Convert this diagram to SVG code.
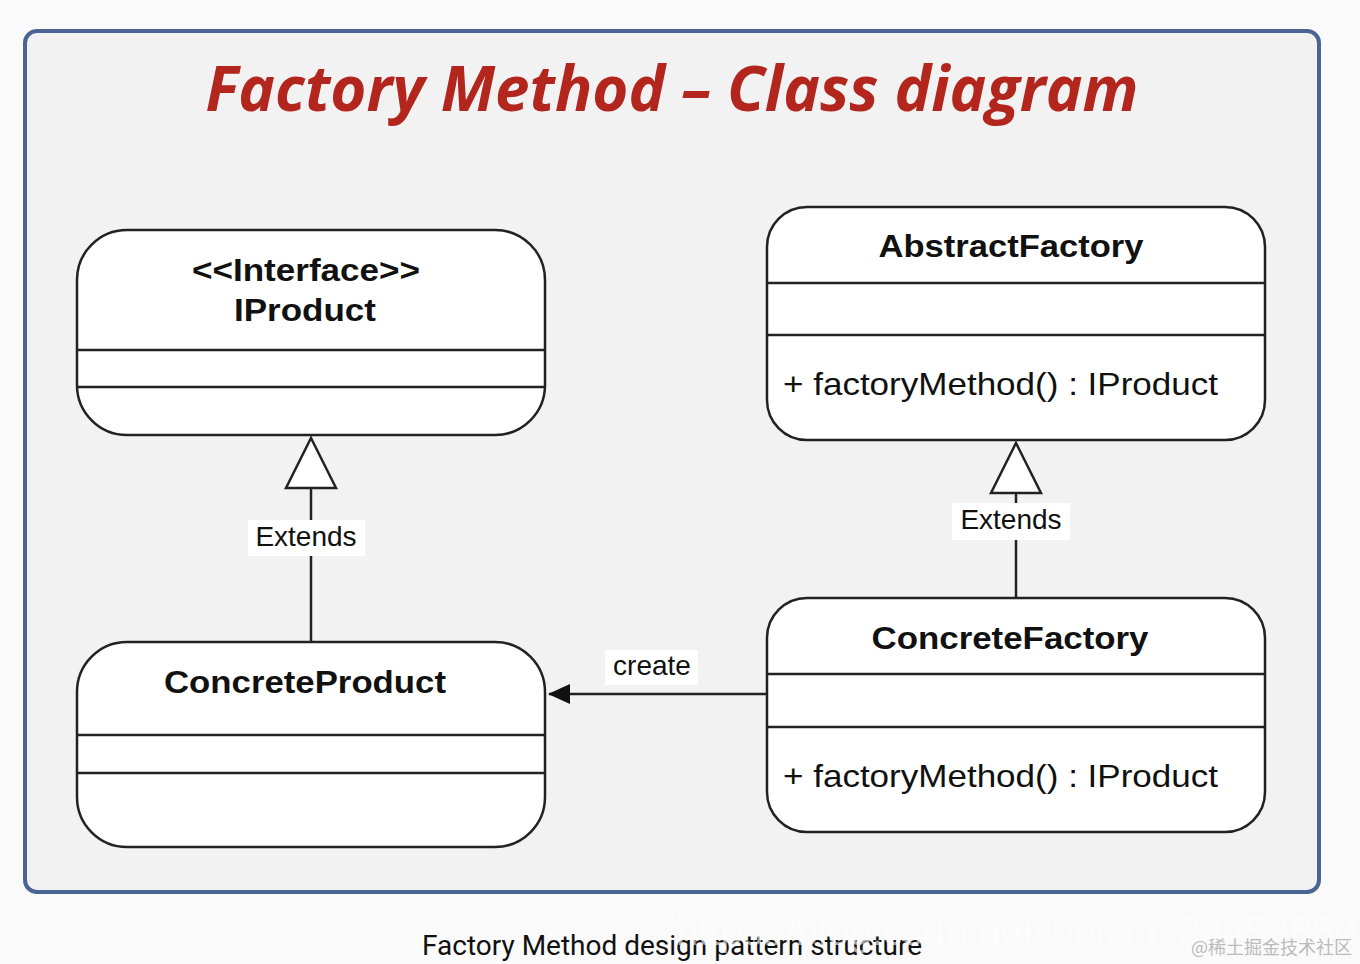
<svg xmlns="http://www.w3.org/2000/svg" width="1360" height="964" viewBox="0 0 1360 964">
<style>
.box{fill:#fff;stroke:#222;stroke-width:2.5}
.ln{stroke:#222;stroke-width:2.5;fill:none}
.nm{font-family:"Liberation Sans",Arial,sans-serif;font-weight:bold;font-size:32px;fill:#111;text-anchor:middle}
.op{font-family:"Liberation Sans",Arial,sans-serif;font-size:32px;fill:#111}
.lb{font-family:"Liberation Sans",Arial,sans-serif;font-size:28px;fill:#111;text-anchor:middle}
.lbg{fill:#fff}
</style>
<defs>
<marker id="fa" markerWidth="22" markerHeight="20" refX="21" refY="10" orient="auto" markerUnits="userSpaceOnUse"><path d="M0,0 L22,10 L0,20 z" fill="#111"/></marker>
</defs>
<rect width="1360" height="964" fill="#fafafa"/>
<rect x="25" y="31" width="1294" height="861" rx="12" fill="#f2f2f2" stroke="#4a6593" stroke-width="4"/>
<text x="672" y="111" text-anchor="middle" textLength="933" lengthAdjust="spacingAndGlyphs" font-family="'Open Sans',Lato,sans-serif" font-weight="bold" font-style="italic" font-size="62" fill="#b3261e">Factory Method – Class diagram</text>
<g id="connectors">
<path class="ln" d="M311,488 V642"/>
<path d="M311,438 L336,488 L286,488 z" fill="#fff" stroke="#222" stroke-width="2.5"/>
<rect class="lbg" x="248" y="520" width="117" height="36"/>
<text class="lb" x="306" y="546">Extends</text>
<path class="ln" d="M1016,493 V598"/>
<path d="M1016,443 L1041,493 L991,493 z" fill="#fff" stroke="#222" stroke-width="2.5"/>
<rect class="lbg" x="952" y="503" width="118" height="37"/>
<text class="lb" x="1011" y="529">Extends</text>
<path class="ln" d="M767,694 H549" marker-end="url(#fa)"/>
<rect class="lbg" x="605" y="650" width="93" height="35"/>
<text class="lb" x="652" y="675">create</text>
</g>
<g id="IProduct">
<rect class="box" x="77" y="230" width="468" height="205" rx="50"/>
<path class="ln" d="M77,350 H545 M77,387 H545"/>
<text class="nm" x="306" y="281" textLength="228" lengthAdjust="spacingAndGlyphs">&lt;&lt;Interface&gt;&gt;</text>
<text class="nm" x="305" y="321" textLength="142" lengthAdjust="spacingAndGlyphs">IProduct</text>
</g>
<g id="AbstractFactory">
<rect class="box" x="767" y="207" width="498" height="233" rx="40"/>
<path class="ln" d="M767,283 H1265 M767,335 H1265"/>
<text class="nm" x="1011" y="257" textLength="265" lengthAdjust="spacingAndGlyphs">AbstractFactory</text>
<text class="op" x="783" y="395" textLength="435" lengthAdjust="spacingAndGlyphs">+ factoryMethod() : IProduct</text>
</g>
<g id="ConcreteProduct">
<rect class="box" x="77" y="642" width="468" height="205" rx="50"/>
<path class="ln" d="M77,735 H545 M77,773 H545"/>
<text class="nm" x="305" y="693" textLength="282" lengthAdjust="spacingAndGlyphs">ConcreteProduct</text>
</g>
<g id="ConcreteFactory">
<rect class="box" x="767" y="598" width="498" height="234" rx="40"/>
<path class="ln" d="M767,674 H1265 M767,727 H1265"/>
<text class="nm" x="1010" y="649" textLength="277" lengthAdjust="spacingAndGlyphs">ConcreteFactory</text>
<text class="op" x="783" y="787" textLength="435" lengthAdjust="spacingAndGlyphs">+ factoryMethod() : IProduct</text>
</g>
<text x="672" y="955" text-anchor="middle" textLength="500" lengthAdjust="spacingAndGlyphs" font-family="Roboto,sans-serif" font-size="27" fill="#111">Factory Method design pattern structure</text>
<text x="676" y="945" font-family="'Liberation Sans',sans-serif" font-size="40" fill="#fff" fill-opacity="0.6">https://blog.csdn.net/weixin_34452850</text>
<text x="1352" y="954" text-anchor="end" font-family="'Noto Sans CJK SC',sans-serif" font-size="18" fill="#bbb">@稀土掘金技术社区</text>
</svg>
